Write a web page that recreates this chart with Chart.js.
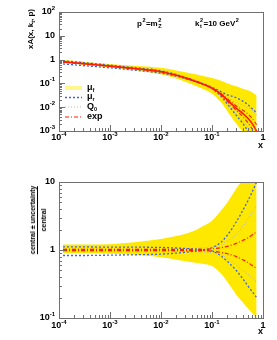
<!DOCTYPE html>
<html><head><meta charset="utf-8">
<script src="https://cdn.jsdelivr.net/npm/chart.js@4"></script>
<style>
body{margin:0;background:#fff;width:277px;height:340px;position:relative;overflow:hidden;font-family:"Liberation Sans",Arial,sans-serif;font-weight:bold;color:#000}
canvas{position:absolute;left:0}
#c1{top:0}#c2{top:170px}
.t{position:absolute;white-space:nowrap;line-height:1;font-size:8px}
.ss{position:relative;display:inline-block;width:4px;height:8px;font-size:5.5px;vertical-align:top}
.ss .u{position:absolute;left:0.5px;top:-2px}
.ss .d{position:absolute;left:0.5px;top:4px}
sub{font-size:5.5px;vertical-align:-2px}
.rot{position:absolute;transform:translate(-50%,-50%) rotate(-90deg);white-space:nowrap;line-height:1}
.frac{text-align:center;font-size:7px}
.frac .den{border-top:1px solid #000;padding-top:2px;margin-top:1px}
.leg{position:absolute;font-size:9px;line-height:1;white-space:nowrap}
</style></head><body>
<canvas id="c1" width="277" height="170"></canvas>
<canvas id="c2" width="277" height="170"></canvas>

<div class="rot" style="left:32px;top:29px;font-size:8px">xA(x, k<sub>t</sub>, p)</div>
<div class="t" style="left:137px;top:20px">p<span class="ss"><span class="u">2</span></span>=m<span class="ss"><span class="u">2</span><span class="d">Z</span></span></div>
<div class="t" style="left:195px;top:20px">k<span class="ss"><span class="u">2</span><span class="d">t</span></span>=10 GeV<span class="ss"><span class="u">2</span></span></div>
<div class="t" style="left:258px;top:141px;font-size:9px">x</div>
<div class="t" style="left:258px;top:327px;font-size:9px">x</div>
<div class="rot frac" style="left:38px;top:220px"><div>central ± uncertainty</div><div class="den">central</div></div>

<div class="leg" style="left:87px;top:83px">μ<sub>f</sub></div>
<div class="leg" style="left:87px;top:92px">μ<sub>r</sub></div>
<div class="leg" style="left:87px;top:102px">Q<sub>0</sub></div>
<div class="leg" style="left:87px;top:112px">exp</div>

<script>
// x positions of the curves
const xVals = [1.2e-4, 3e-4, 1e-3, 3e-3, 1e-2, 2e-2, 4e-2, 0.07, 0.1, 0.15, 0.2, 0.3, 0.4, 0.5, 0.6, 0.75];

// top panel: xA(x,kt,p)
const topCentral = [0.80, 0.68, 0.53, 0.42, 0.31, 0.22, 0.14, 0.09, 0.063, 0.035, 0.02, 0.009, 0.0055, 0.0035, 0.0022, 0.001];
const topMuFUp   = [0.96, 0.82, 0.65, 0.55, 0.45, 0.35, 0.26, 0.2, 0.17, 0.13, 0.1, 0.075, 0.06, 0.052, 0.044, 0.03];
const topMuFLow  = [0.72, 0.61, 0.47, 0.36, 0.24, 0.16, 0.092, 0.056, 0.037, 0.016, 0.0068, 0.002, 0.00094, 0.00049, 0.00026, 0.0001];
const topMuRA    = [0.89, 0.75, 0.58, 0.46, 0.34, 0.235, 0.146, 0.091, 0.061, 0.029, 0.0136, 0.0045, 0.0021, 0.00105, 0.0006, 0.0003];
const topMuRB    = [0.66, 0.56, 0.45, 0.36, 0.27, 0.2, 0.133, 0.09, 0.068, 0.045, 0.033, 0.025, 0.018, 0.013, 0.009, 0.0058];
const topQ0Up    = [0.82, 0.70, 0.55, 0.43, 0.32, 0.23, 0.147, 0.097, 0.069, 0.042, 0.027, 0.0153, 0.0121, 0.0098, 0.0077, 0.0045];
const topQ0Low   = [0.78, 0.66, 0.51, 0.41, 0.30, 0.21, 0.133, 0.084, 0.057, 0.030, 0.015, 0.0054, 0.00275, 0.00154, 0.00088, 0.00033];
const topExpUp   = [0.82, 0.69, 0.54, 0.43, 0.32, 0.224, 0.143, 0.092, 0.066, 0.038, 0.0226, 0.0113, 0.0076, 0.0053, 0.0036, 0.00185];
const topExpLow  = [0.78, 0.67, 0.52, 0.41, 0.30, 0.216, 0.137, 0.088, 0.060, 0.032, 0.0176, 0.0072, 0.004, 0.0023, 0.0013, 0.00054];

// bottom panel: ratios to central
const ratMuFUp  = [1.2, 1.2, 1.22, 1.3, 1.45, 1.6, 1.85, 2.3, 2.7, 3.8, 5.0, 8.0, 11, 15, 20, 30];
const ratMuFLow = [0.9, 0.9, 0.88, 0.85, 0.78, 0.72, 0.66, 0.62, 0.58, 0.45, 0.34, 0.22, 0.17, 0.14, 0.12, 0.1];
const ratMuRA   = [1.11, 1.11, 1.1, 1.1, 1.09, 1.07, 1.04, 1.01, 0.97, 0.82, 0.68, 0.5, 0.38, 0.3, 0.25, 0.2];
const ratMuRB   = [0.83, 0.83, 0.84, 0.85, 0.87, 0.9, 0.95, 1.0, 1.08, 1.3, 1.65, 2.6, 3.8, 5.2, 6.9, 10];
const ratQ0Up   = [1.03, 1.03, 1.03, 1.03, 1.03, 1.04, 1.05, 1.08, 1.1, 1.2, 1.35, 1.7, 2.2, 2.8, 3.5, 4.5];
const ratQ0Low  = [0.97, 0.97, 0.97, 0.97, 0.97, 0.96, 0.95, 0.93, 0.91, 0.85, 0.75, 0.6, 0.5, 0.44, 0.4, 0.33];
const ratExpUp  = [1.02, 1.02, 1.02, 1.02, 1.02, 1.02, 1.02, 1.02, 1.04, 1.08, 1.13, 1.25, 1.38, 1.5, 1.65, 1.85];
const ratExpLow = [0.98, 0.98, 0.98, 0.98, 0.98, 0.98, 0.98, 0.98, 0.96, 0.92, 0.88, 0.8, 0.72, 0.66, 0.6, 0.54];

// tick labels
const xTicks = [1e-4, 1e-3, 1e-2, 1e-1, 1];
const xTickBase = ['10', '10', '10', '10', '1'];
const xTickExp = ['-4', '-3', '-2', '-1', ''];
const topYTicks = [1e-3, 1e-2, 1e-1, 1, 10, 100];
const topYBase = ['10', '10', '10', '1', '10', '10'];
const topYExp = ['-3', '-2', '-1', '', '', '2'];
const botYTicks = [0.1, 1, 10];
const botYBase = ['10', '1', '10'];
const botYExp = ['-1', '', ''];

const YEL = 'rgb(255,232,0)', BLUE = 'rgb(60,100,225)', GRAY = 'rgb(185,185,185)', RED = 'rgb(255,30,0)';

function pts(arr){ return xVals.map((x,i)=>({x, y:arr[i]})); }

function drawLabel(ctx, base, exp, x, y, align){
  ctx.font = 'bold 9px "Liberation Sans", Arial';
  const wb = ctx.measureText(base).width;
  ctx.font = 'bold 6px "Liberation Sans", Arial';
  const we = exp ? ctx.measureText(exp).width : 0;
  const w = wb + we;
  let x0 = align === 'center' ? x - w/2 : x - w;
  ctx.textBaseline = 'middle'; ctx.textAlign = 'left'; ctx.fillStyle = '#000';
  ctx.font = 'bold 9px "Liberation Sans", Arial';
  ctx.fillText(base, x0, y);
  if (exp){ ctx.font = 'bold 6px "Liberation Sans", Arial'; ctx.fillText(exp, x0 + wb, y - 4); }
}

const frame = {
  id: 'frame',
  afterDatasetsDraw(chart, args, o){
    const {ctx, chartArea:a, scales:{x, y}} = chart;
    ctx.save();
    ctx.strokeStyle = '#707070'; ctx.lineWidth = 1;
    ctx.strokeRect(a.left + 0.5, a.top + 0.5, a.right - a.left, a.bottom - a.top);
    ctx.beginPath();
    for (let d = -4; d < 0; d++) for (let m = 1; m < 10; m++){
      const px = Math.round(x.getPixelForValue(m * 10**d)) + 0.5;
      const L = m === 1 ? 6 : 3;
      ctx.moveTo(px, a.bottom); ctx.lineTo(px, a.bottom - L);
    }
    for (let d = o.yMin; d < o.yMax; d++) for (let m = 1; m < 10; m++){
      const py = Math.round(y.getPixelForValue(m * 10**d)) + 0.5;
      const L = m === 1 ? 6 : 3;
      ctx.moveTo(a.left, py); ctx.lineTo(a.left + L, py);
    }
    ctx.stroke();
    xTicks.forEach((v,i)=>drawLabel(ctx, xTickBase[i], xTickExp[i], x.getPixelForValue(v), a.bottom + o.xLabOff, 'center'));
    o.yTicks.forEach((v,i)=>drawLabel(ctx, o.yBase[i], o.yExp[i], a.left - 4, y.getPixelForValue(v), 'right'));
    // legend samples
    if (o.legend){
      const items = [
        {c:'rgba(255,235,0,0.45)', w:4, dash:[], y:88},
        {c:BLUE, w:1.3, dash:[2,2], y:97.5},
        {c:GRAY, w:1.2, dash:[1,2], y:107},
        {c:RED, w:1.2, dash:[4,2,1,2], y:117}
      ];
      items.forEach(it=>{
        ctx.beginPath(); ctx.strokeStyle = it.c; ctx.lineWidth = it.w; ctx.setLineDash(it.dash);
        ctx.moveTo(65, it.y); ctx.lineTo(82, it.y); ctx.stroke();
      });
      ctx.setLineDash([]);
    }
    ctx.restore();
  }
};

function band(up, low){
  return [
    {data: pts(up), fill: '+1', backgroundColor: YEL, borderColor: 'rgba(0,0,0,0)', borderWidth: 0, order: 10, cubicInterpolationMode: 'monotone'},
    {data: pts(low), fill: false, borderColor: 'rgba(0,0,0,0)', borderWidth: 0, order: 10, cubicInterpolationMode: 'monotone'}
  ];
}
function line(arr, color, dash, w){
  return {data: pts(arr), borderColor: color, borderDash: dash, borderWidth: w, fill: false, order: 1, cubicInterpolationMode: 'monotone'};
}

function makeChart(id, datasets, yMin, yMax, pad, fo){
  return new Chart(document.getElementById(id), {
    type: 'line',
    data: {datasets},
    options: {
      responsive: false, animation: false, devicePixelRatio: 1,
      layout: {padding: pad},
      elements: {point: {radius: 0}},
      plugins: {legend: {display: false}, tooltip: {enabled: false}, frame: fo},
      scales: {
        x: {type: 'logarithmic', min: 1e-4, max: 1, display: false},
        y: {type: 'logarithmic', min: 10**yMin, max: 10**yMax, display: false}
      }
    },
    plugins: [frame]
  });
}

makeChart('c1', [
  ...band(topMuFUp, topMuFLow),
  line(topCentral, RED, [], 1.6),
  line(topExpUp, RED, [4,2,1,2], 1.1),
  line(topExpLow, RED, [4,2,1,2], 1.1),
  line(topMuRA, BLUE, [2,2], 1.3),
  line(topMuRB, BLUE, [2,2], 1.3),
  line(topQ0Up, GRAY, [1,2], 1.1),
  line(topQ0Low, GRAY, [1,2], 1.1)
], -3, 2, {left: 59, top: 12, right: 14, bottom: 39},
  {yMin: -3, yMax: 2, yTicks: topYTicks, yBase: topYBase, yExp: topYExp, xLabOff: 7, legend: true});

makeChart('c2', [
  ...band(ratMuFUp, ratMuFLow),
  line(ratExpUp, RED, [4,2,1,2], 1.2),
  line(ratExpLow, RED, [4,2,1,2], 1.2),
  line(ratMuRA, BLUE, [2,2], 1.3),
  line(ratMuRB, BLUE, [2,2], 1.3),
  line(ratQ0Up, GRAY, [1,2], 1.1),
  line(ratQ0Low, GRAY, [1,2], 1.1)
], -1, 1, {left: 59, top: 12, right: 14, bottom: 22},
  {yMin: -1, yMax: 1, yTicks: botYTicks, yBase: botYBase, yExp: botYExp, xLabOff: 8, legend: false});
</script>
</body></html>
